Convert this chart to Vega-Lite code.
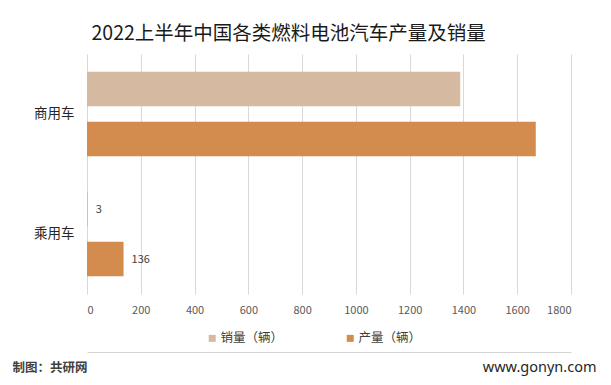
{
  "$schema": "https://vega.github.io/schema/vega-lite/v6.json",
  "width": 484,
  "height": 240,
  "autosize": {"type": "none"},
  "padding": {"left": 87, "top": 54, "right": 40, "bottom": 91},
  "background": "#ffffff",
  "config": {"font": "Noto Sans CJK SC", "view": {"stroke": null}},
  "title": {
    "text": "2022上半年中国各类燃料电池汽车产量及销量",
    "anchor": "start",
    "frame": "group",
    "dx": 4.5,
    "offset": -5,
    "baseline": "alphabetic",
    "fontSize": 19.5,
    "fontWeight": "normal",
    "color": "#1a1a1a",
    "font": "Noto Sans CJK SC"
  },
  "data": {
    "values": [
      {"type": "商用车", "metric": "销量（辆）", "value": 1388},
      {"type": "商用车", "metric": "产量（辆）", "value": 1669},
      {"type": "乘用车", "metric": "销量（辆）", "value": 3},
      {"type": "乘用车", "metric": "产量（辆）", "value": 136}
    ]
  },
  "encoding": {
    "y": {
      "field": "type",
      "type": "nominal",
      "sort": ["商用车", "乘用车"],
      "scale": {"paddingInner": 0.294, "paddingOuter": 0.147},
      "axis": {
        "title": null,
        "ticks": false,
        "domain": false,
        "grid": false,
        "labelFontSize": 13.5,
        "labelColor": "#262626",
        "labelPadding": 13
      }
    },
    "yOffset": {
      "field": "metric",
      "type": "nominal",
      "sort": ["销量（辆）", "产量（辆）"],
      "scale": {"paddingInner": 0.306, "paddingOuter": 0}
    }
  },
  "layer": [
    {
      "mark": {"type": "bar"},
      "encoding": {
        "x": {
          "field": "value",
          "type": "quantitative",
          "scale": {"domain": [0, 1800], "nice": false},
          "axis": {
            "orient": "bottom",
            "values": [0, 200, 400, 600, 800, 1000, 1200, 1400, 1600, 1800],
            "format": "d",
            "grid": true,
            "gridColor": "#d9d9d9",
            "gridWidth": 1,
            "domain": false,
            "ticks": false,
            "labelFontSize": 11,
            "labelColor": "#595959",
            "labelPadding": 10,
            "title": "制图：共研网",
            "titleAnchor": "start",
            "titleAlign": "left",
            "titleBaseline": "alphabetic",
            "titleX": -75,
            "titleY": 77,
            "titleFontSize": 12.5,
            "titleFontWeight": "bold",
            "titleColor": "#404040"
          }
        },
        "color": {
          "field": "metric",
          "type": "nominal",
          "sort": ["销量（辆）", "产量（辆）"],
          "scale": {"domain": ["销量（辆）", "产量（辆）"], "range": ["#D6B9A1", "#D38C4E"]},
          "legend": {
            "orient": "none",
            "legendX": 119,
            "legendY": 278,
            "direction": "horizontal",
            "title": null,
            "symbolType": "square",
            "symbolSize": 49,
            "symbolStrokeWidth": 0,
            "labelFontSize": 12.5,
            "labelColor": "#404040",
            "labelOffset": 2,
            "columnPadding": 60,
            "padding": 0
          }
        }
      }
    },
    {
      "transform": [{"filter": "datum.type === '乘用车'"}],
      "mark": {"type": "text", "align": "left", "baseline": "middle", "dx": 8, "dy": 1, "fontSize": 11, "color": "#404040"},
      "encoding": {
        "x": {
          "field": "value",
          "type": "quantitative",
          "scale": {"domain": [0, 1800], "nice": false},
          "axis": {
            "orient": "bottom",
            "offset": 58,
            "grid": false,
            "labels": false,
            "ticks": false,
            "domain": true,
            "domainColor": "#d4d4d4",
            "domainWidth": 1,
            "title": "www.gonyn.com",
            "titleAnchor": "start",
            "titleAlign": "right",
            "titleBaseline": "alphabetic",
            "titleX": 509,
            "titleY": 19,
            "titleFontSize": 14.5,
            "titleFontWeight": "normal",
            "titleColor": "#262626",
            "titleFont": "Noto Sans"
          }
        },
        "text": {"field": "value", "type": "quantitative"}
      }
    }
  ],
  "resolve": {"axis": {"x": "independent"}}
}
